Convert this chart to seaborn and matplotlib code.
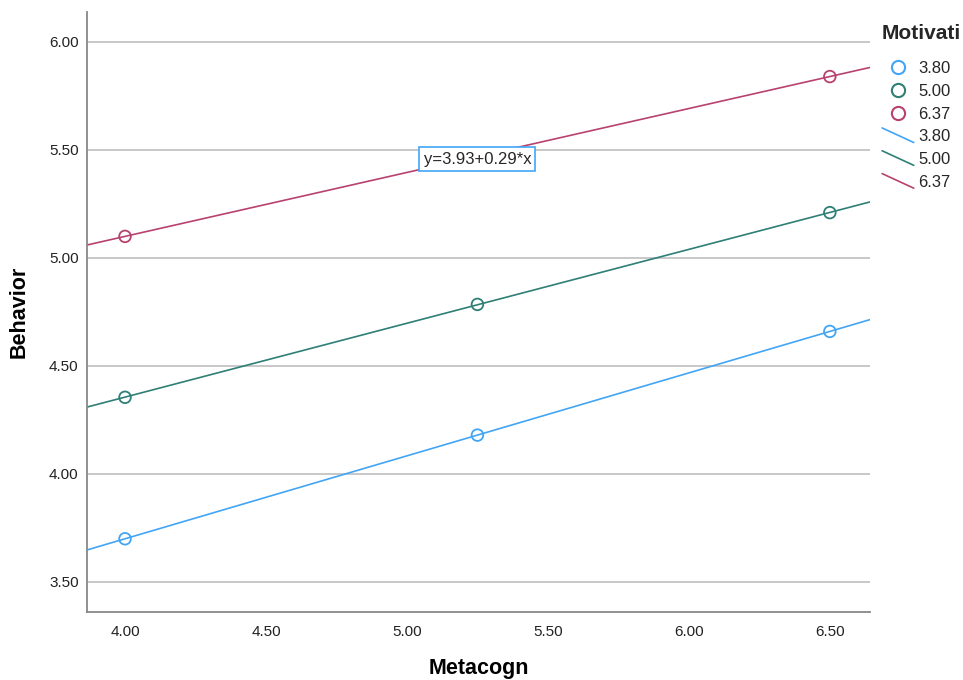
import numpy as np
import pandas as pd
import matplotlib
matplotlib.use('Agg')
import matplotlib.pyplot as plt
import seaborn as sns
from matplotlib.lines import Line2D
from matplotlib.legend_handler import HandlerBase

# Data
motiv_levels = ['3.80', '5.00', '6.37']
metacogn = [4.00, 5.25, 6.50]
behavior_low = [3.70, 4.18, 4.66]
behavior_mid = [4.355, 4.785, 5.21]
behavior_high = [5.10, 5.47, 5.84]
colors = ['#42a5f5', '#2e7f76', '#b8416f']
fit_label = 'y=3.93+0.29*x'

x_lim = (3.865, 6.642)
y_lim = (3.361, 6.139)

sns.set_theme(style='white')
plt.rcParams['font.family'] = ['Liberation Sans', 'DejaVu Sans']


class DiagLineHandler(HandlerBase):
    # SPSS style legend key: a short slanted line
    def create_artists(self, legend, orig_handle, xdescent, ydescent,
                       width, height, fontsize, trans):
        ln = Line2D([-xdescent, -xdescent + width],
                    [-ydescent + height * 1.15, -ydescent - height * 0.1],
                    color=orig_handle.get_color(), linewidth=orig_handle.get_linewidth(),
                    transform=trans)
        return [ln]


points = pd.DataFrame({
    'Metacogn': metacogn * 3,
    'Behavior': behavior_low + behavior_mid + behavior_high,
    'Motivati': np.repeat(motiv_levels, 3),
})

# fitted lines per group, drawn across the full x range
rows = []
for lvl in motiv_levels:
    sub = points[points['Motivati'] == lvl]
    slope, icpt = np.polyfit(sub['Metacogn'], sub['Behavior'], 1)
    for xv in x_lim:
        rows.append({'Metacogn': xv, 'Behavior': icpt + slope * xv, 'Motivati': lvl})
lines = pd.DataFrame(rows)

pal = dict(zip(motiv_levels, colors))

fig = plt.figure(figsize=(9.63, 6.8), dpi=100)
ax = fig.add_axes([0.0903, 0.1, 0.813, 0.8824])

sns.lineplot(data=lines, x='Metacogn', y='Behavior', hue='Motivati', palette=pal,
             linewidth=1.2, legend=False, ax=ax, zorder=2)
sns.scatterplot(data=points, x='Metacogn', y='Behavior', hue='Motivati', palette=pal,
                s=70, linewidth=1.3, legend=False, ax=ax, zorder=3)
coll = ax.collections[-1]
coll.set_edgecolors(coll.get_facecolors())
coll.set_facecolor('none')

ax.set_xlim(*x_lim)
ax.set_ylim(*y_lim)
ax.set_xticks([4.0, 4.5, 5.0, 5.5, 6.0, 6.5])
ax.set_yticks([3.5, 4.0, 4.5, 5.0, 5.5, 6.0])
ax.xaxis.set_major_formatter(matplotlib.ticker.FormatStrFormatter('%.2f'))
ax.yaxis.set_major_formatter(matplotlib.ticker.FormatStrFormatter('%.2f'))
ax.tick_params(axis='both', length=0, labelsize=11, colors='#222222')
ax.tick_params(axis='x', pad=9.5)
ax.tick_params(axis='y', pad=6)
ax.grid(axis='y', color='#c4c4c4', linewidth=1.3)
ax.set_axisbelow(True)
for side in ['top', 'right']:
    ax.spines[side].set_visible(False)
for side in ['left', 'bottom']:
    ax.spines[side].set_color('#888888')
    ax.spines[side].set_linewidth(1.3)

ax.set_xlabel('Metacogn', fontsize=15.5, fontweight='bold', color='black')
ax.set_ylabel('Behavior', fontsize=15.5, fontweight='bold', color='black')
ax.xaxis.set_label_coords(0.5, -0.077)
ax.yaxis.set_label_coords(-0.073, 0.5)

ax.text(5.25, 5.458, fit_label, ha='center', va='center', fontsize=12, zorder=5,
        bbox=dict(boxstyle='square,pad=0.25', facecolor='white', edgecolor='#42a5f5', linewidth=1.2))

handles = [Line2D([], [], linestyle='none', marker='o', markersize=9.5, markerfacecolor='none',
                  markeredgecolor=c, markeredgewidth=1.5) for c in colors]
line_handles = [Line2D([], [], color=c, linewidth=1.2) for c in colors]
handles += line_handles
leg = fig.legend(handles, motiv_levels * 2, loc='upper left', bbox_to_anchor=(0.916, 0.964),
                 frameon=False, title='Motivati', fontsize=12, handlelength=1.9,
                 handletextpad=0.25, labelspacing=0.47, borderaxespad=0, borderpad=0,
                 handler_map={h: DiagLineHandler() for h in line_handles})
leg.get_title().set_fontweight('bold')
leg.get_title().set_fontsize(15)
leg._legend_box.align = 'left'
leg._legend_box.sep = 12.5

fig.savefig('out.png', dpi=100)
